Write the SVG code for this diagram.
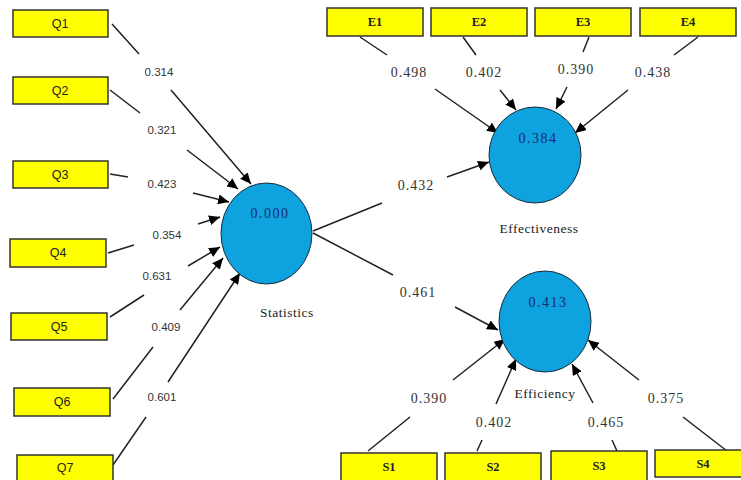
<svg xmlns="http://www.w3.org/2000/svg" width="741" height="480" viewBox="0 0 741 480">
<style>
.box{fill:#ffff00;stroke:#333;stroke-width:1.5}
.lv{fill:#0ea3df;stroke:#1a2a3a;stroke-width:1}
.ql{font-family:"Liberation Sans",Arial,sans-serif;font-size:12.5px;fill:#222;text-anchor:middle}
.sl{font-family:"Liberation Serif","Times New Roman",serif;font-size:12.5px;font-weight:bold;fill:#222;text-anchor:middle}
.wl{font-family:"Liberation Sans",Arial,sans-serif;font-size:11.5px;fill:#333;text-anchor:middle}
.wr{font-family:"Liberation Serif","Times New Roman",serif;font-size:14px;fill:#333;text-anchor:middle;letter-spacing:1px}
.cv{font-family:"Liberation Serif","Times New Roman",serif;font-size:14px;fill:#1a2a6c;text-anchor:middle;letter-spacing:1.5px}
.nm{font-family:"Liberation Serif","Times New Roman",serif;font-size:13.5px;fill:#222;text-anchor:middle;letter-spacing:0.5px}
.c{fill:none;stroke:#222;stroke-width:1.5;marker-end:url(#ah)}
</style>
<defs>
<marker id="ah" viewBox="0 0 11 10" refX="11" refY="5" markerWidth="11" markerHeight="10" markerUnits="userSpaceOnUse" orient="auto">
<path d="M0,0 L11,5 L0,10 z" fill="#000"/>
</marker>
</defs>
<rect width="741" height="480" fill="#fff"/>
<g id="connectors">
<path class="c" d="M112,24 L139,54 M171,90 L251,184"/>
<path class="c" d="M110,90 L140,113 M187,150 L238,189"/>
<path class="c" d="M110,174 L128,177 M193,193 L229,202"/>
<path class="c" d="M108,253 L134,245 M198,224 L220,217"/>
<path class="c" d="M110,317 L144,295 M188,266 L220,247"/>
<path class="c" d="M113,399 L153,347 M180,310 L223,258"/>
<path class="c" d="M113,465 L146,417 M168,382 L240,273"/>
<path class="c" d="M313,231 L382,203 M447,177 L489,162"/>
<path class="c" d="M313,233 L393,275 M455,307 L498,330"/>
<path class="c" d="M360,37 L387,55 M435,89 L498,133"/>
<path class="c" d="M463,37 L476,55 M500,90 L516,110"/>
<path class="c" d="M589,37 L583,52 M567,87 L556,109"/>
<path class="c" d="M698,37 L674,55 M628,90 L575,133"/>
<path class="c" d="M368,451 L410,417 M453,380 L505,339"/>
<path class="c" d="M477,451 L482,440 M496,404 L516,359"/>
<path class="c" d="M617,451 L612,440 M593,403 L572,364"/>
<path class="c" d="M727,451 L683,417 M639,380 L588,340"/>
<text class="wl" x="159" y="76">0.314</text>
<text class="wl" x="162" y="134">0.321</text>
<text class="wl" x="162" y="188">0.423</text>
<text class="wl" x="167" y="239">0.354</text>
<text class="wl" x="157" y="280">0.631</text>
<text class="wl" x="166" y="331">0.409</text>
<text class="wl" x="162" y="401">0.601</text>
<text class="wr" x="416" y="190">0.432</text>
<text class="wr" x="418" y="297">0.461</text>
<text class="wr" x="409" y="77">0.498</text>
<text class="wr" x="484" y="77">0.402</text>
<text class="wr" x="576" y="74">0.390</text>
<text class="wr" x="653" y="77">0.438</text>
<text class="wr" x="429" y="403">0.390</text>
<text class="wr" x="494" y="427">0.402</text>
<text class="wr" x="606" y="427">0.465</text>
<text class="wr" x="666" y="403">0.375</text>
</g>
<g id="Q1"><rect class="box" x="13" y="10" width="95" height="27"/><text class="ql" x="60" y="28">Q1</text></g>
<g id="Q2"><rect class="box" x="13" y="77" width="95" height="27"/><text class="ql" x="60" y="95">Q2</text></g>
<g id="Q3"><rect class="box" x="13" y="161" width="95" height="27"/><text class="ql" x="60" y="179">Q3</text></g>
<g id="Q4"><rect class="box" x="10" y="239" width="96" height="28"/><text class="ql" x="58" y="257">Q4</text></g>
<g id="Q5"><rect class="box" x="11" y="313" width="96" height="27"/><text class="ql" x="59" y="331">Q5</text></g>
<g id="Q6"><rect class="box" x="14" y="388" width="96" height="28"/><text class="ql" x="62" y="406">Q6</text></g>
<g id="Q7"><rect class="box" x="17" y="455" width="96" height="30"/><text class="ql" x="65" y="472">Q7</text></g>
<g id="E1"><rect class="box" x="327" y="8" width="96" height="28"/><text class="sl" x="375" y="26">E1</text></g>
<g id="E2"><rect class="box" x="431" y="8" width="96" height="28"/><text class="sl" x="479" y="26">E2</text></g>
<g id="E3"><rect class="box" x="535" y="8" width="96" height="28"/><text class="sl" x="583" y="26">E3</text></g>
<g id="E4"><rect class="box" x="640" y="8" width="96" height="28"/><text class="sl" x="688" y="26">E4</text></g>
<g id="S1"><rect class="box" x="341" y="453" width="96" height="32"/><text class="sl" x="389" y="471">S1</text></g>
<g id="S2"><rect class="box" x="445" y="453" width="96" height="32"/><text class="sl" x="493" y="471">S2</text></g>
<g id="S3"><rect class="box" x="551" y="451" width="96" height="32"/><text class="sl" x="599" y="470">S3</text></g>
<g id="S4"><rect class="box" x="655" y="450" width="96" height="27"/><text class="sl" x="703" y="468">S4</text></g>
<g id="Statistics"><ellipse class="lv" cx="266.5" cy="233.5" rx="45.5" ry="50.5"/><text class="cv" x="270" y="218">0.000</text><text class="nm" x="287" y="317">Statistics</text></g>
<g id="Effectiveness"><ellipse class="lv" cx="535" cy="155" rx="46" ry="48"/><text class="cv" x="538" y="143">0.384</text><text class="nm" x="539" y="233">Effectiveness</text></g>
<g id="Efficiency"><ellipse class="lv" cx="545" cy="321.5" rx="46" ry="50.5"/><text class="cv" x="548" y="307">0.413</text><text class="nm" x="545" y="398">Efficiency</text></g>
</svg>
